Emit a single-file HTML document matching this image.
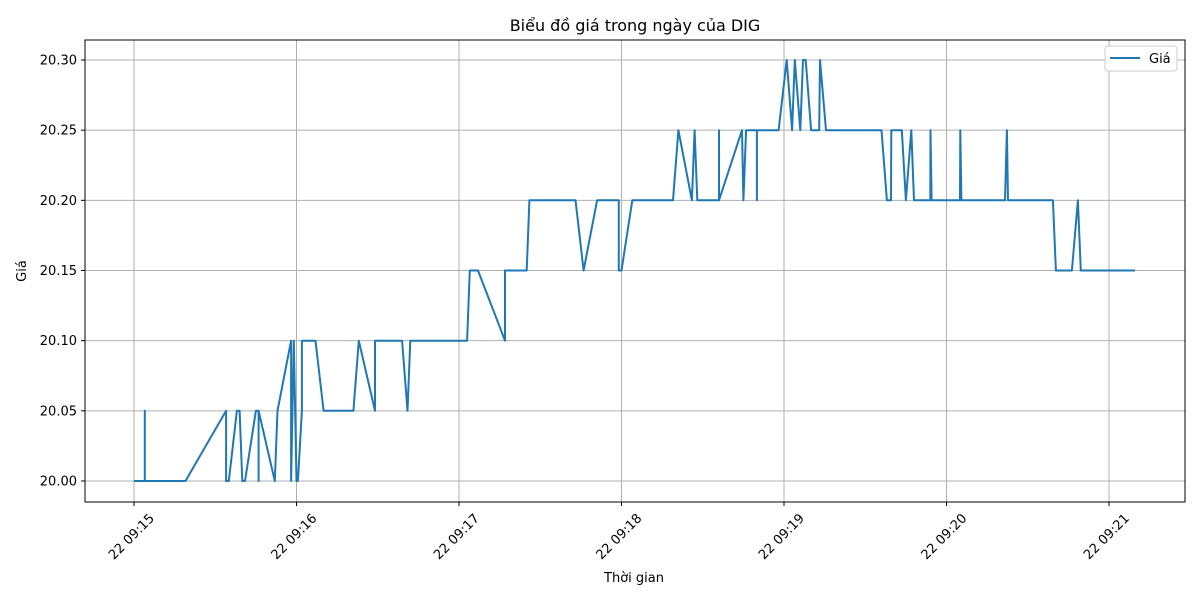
<!DOCTYPE html>
<html><head><meta charset="utf-8"><style>
body{margin:0;background:#fff}
svg text{font-family:"DejaVu Sans","Liberation Sans",sans-serif;fill:#000}
</style></head><body>
<svg id="chart" width="1200" height="600" viewBox="0 0 1200 600" xmlns="http://www.w3.org/2000/svg">
<rect width="1200" height="600" fill="#fff"/>
<text x="635" y="31" font-size="16" text-anchor="middle">Biểu đồ giá trong ngày của DIG</text>
<g id="grid"></g>
<g id="ticks"></g>
<path id="line" fill="none" stroke="#1f77b4" stroke-width="2" stroke-linejoin="round"/>
<rect x="85" y="40" width="1100" height="462" fill="none" stroke="#000" stroke-width="1"/>
<text x="634" y="582" font-size="13" text-anchor="middle">Thời gian</text>
<text transform="translate(26,271) rotate(-90)" font-size="13" text-anchor="middle">Giá</text>
<g>
<rect x="1105" y="46" width="72" height="25" rx="3" fill="#fff" stroke="#ccc"/>
<line x1="1110" y1="58" x2="1140" y2="58" stroke="#1f77b4" stroke-width="2"/>
<text x="1149" y="63" font-size="13">Giá</text>
</g>
</svg>
<script>
// seconds after 09:15:00
const times=[0,4,4,4,19,34,34,35,38,39,40,41,45,46,46,46,52,53,58,58,59,60,60.5,62,62,67,70,81,83,89,89,99,101,102,123,124,127,137,137,145,146,163,166,171,179,179,180,184,199,201,206,207,208,216,216,216,224.5,225,226,230,230,230,238,241,243,244,246,247,248,250,253,253.3,255.5,276,278,279.5,279.6,283.5,285,287,288,294,294.1,294.5,305,305.1,305.5,321.6,322.3,322.7,339.3,340.4,346.3,348.5,349.6,369.6];
const prices=[20.00,20.00,20.05,20.00,20.00,20.05,20.00,20.00,20.05,20.05,20.00,20.00,20.05,20.05,20.00,20.05,20.00,20.05,20.10,20.00,20.10,20.00,20.00,20.05,20.10,20.10,20.05,20.05,20.10,20.05,20.10,20.10,20.05,20.10,20.10,20.15,20.15,20.10,20.15,20.15,20.20,20.20,20.15,20.20,20.20,20.15,20.15,20.20,20.20,20.25,20.20,20.25,20.20,20.20,20.25,20.20,20.25,20.20,20.25,20.25,20.20,20.25,20.25,20.30,20.25,20.30,20.25,20.30,20.30,20.25,20.25,20.30,20.25,20.25,20.20,20.20,20.25,20.25,20.20,20.25,20.20,20.20,20.25,20.20,20.20,20.25,20.20,20.20,20.25,20.20,20.20,20.15,20.15,20.20,20.15,20.15];
const yTicks=[20.00,20.05,20.10,20.15,20.20,20.25,20.30];
const xTicks=[0,60,120,180,240,300,360];
const xTickLabels=["22 09:15","22 09:16","22 09:17","22 09:18","22 09:19","22 09:20","22 09:21"];
const NS="http://www.w3.org/2000/svg";
const xs=s=>134+s*162.5/60;
const ys=v=>481-(v-20)*(421/0.30);
const grid=document.getElementById('grid'),ticks=document.getElementById('ticks');
function mk(tag,attrs,parent,txt){const e=document.createElementNS(NS,tag);for(const k in attrs)e.setAttribute(k,attrs[k]);if(txt!==undefined)e.textContent=txt;parent.appendChild(e);return e;}
yTicks.forEach(v=>{const y=ys(v);
 const g=mk('line',{x1:85,x2:1185,y1:y,y2:y,stroke:'#b0b0b0','stroke-width':1},grid);
 
 
 mk('line',{x1:81,x2:85,y1:y,y2:y,stroke:'#000'},ticks);
 const t=mk('text',{x:77,y:y+4.5,'font-size':13,'text-anchor':'end'},ticks,v.toFixed(2));
 
 
});
xTicks.forEach((s,i)=>{const x=xs(s);
 const g=mk('line',{x1:x,x2:x,y1:40,y2:502,stroke:'#b0b0b0','stroke-width':1},grid);
 
 
 mk('line',{x1:x,x2:x,y1:502,y2:506,stroke:'#000'},ticks);
 const t=mk('text',{transform:`translate(${x+21},${519}) rotate(-45)`,'font-size':13,'text-anchor':'end'},ticks,xTickLabels[i]);
 
 
});
document.getElementById('line').setAttribute('d',times.map((s,i)=>(i?'L':'M')+xs(s).toFixed(1)+','+ys(prices[i]).toFixed(1)).join(''));
</script>
</body></html>
